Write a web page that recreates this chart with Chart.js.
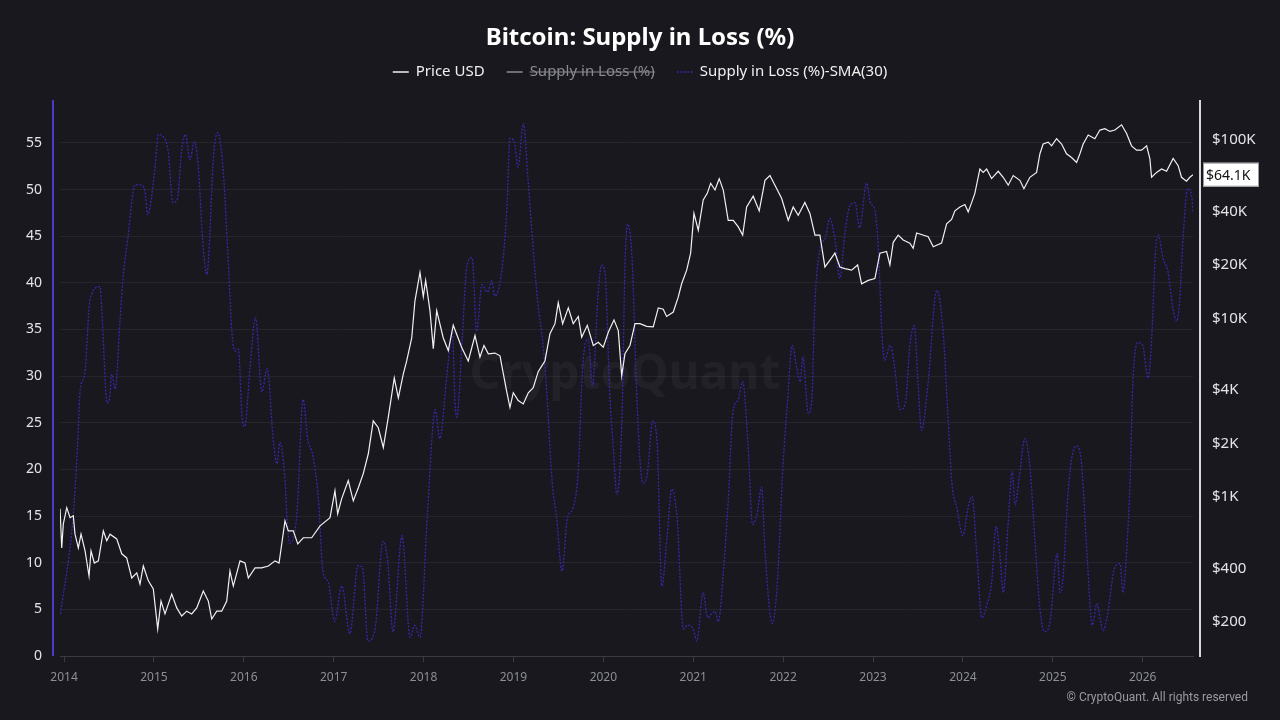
<!DOCTYPE html>
<html>
<head>
<meta charset="utf-8">
<script src="https://cdn.jsdelivr.net/npm/chart.js@4.4.1/dist/chart.umd.min.js"></script>
<style>
html,body{margin:0;padding:0;background:#18181e;}
#wrap{width:1280px;height:720px;position:relative;}
</style>
</head>
<body>
<div id="wrap"><canvas id="chart" width="1280" height="720"></canvas></div>
<script>
// Bitcoin: Supply in Loss (%) - price vs SMA(30)

const yearTicks=[2014,2015,2016,2017,2018,2019,2020,2021,2022,2023,2024,2025,2026];
const pctTicks=[0,5,10,15,20,25,30,35,40,45,50,55];
const priceTicks=[200,400,1000,2000,4000,10000,20000,40000,100000];

const smaYears=[2013.96,2014.10,2014.15,2014.18,2014.23,2014.29,2014.40,2014.42,2014.48,2014.51,
  2014.53,2014.57,2014.62,2014.66,2014.71,2014.79,2014.85,2014.90,2014.93,2015.01,
  2015.05,2015.10,2015.16,2015.21,2015.26,2015.31,2015.35,2015.40,2015.45,2015.49,
  2015.55,2015.59,2015.62,2015.66,2015.71,2015.77,2015.82,2015.87,2015.90,2015.94,
  2015.98,2016.01,2016.07,2016.13,2016.20,2016.26,2016.33,2016.37,2016.40,2016.46,
  2016.48,2016.51,2016.59,2016.66,2016.71,2016.77,2016.83,2016.88,2016.94,2017.01,
  2017.09,2017.18,2017.27,2017.32,2017.38,2017.46,2017.55,2017.60,2017.66,2017.76,
  2017.85,2017.90,2017.96,2018.04,2018.13,2018.18,2018.26,2018.32,2018.35,2018.37,
  2018.43,2018.48,2018.54,2018.59,2018.65,2018.71,2018.76,2018.79,2018.87,2018.93,
  2018.96,2019.01,2019.05,2019.11,2019.16,2019.22,2019.27,2019.33,2019.37,2019.43,
  2019.48,2019.54,2019.60,2019.66,2019.72,2019.77,2019.83,2019.88,2019.94,2019.98,
  2020.02,2020.07,2020.11,2020.15,2020.21,2020.24,2020.27,2020.32,2020.37,2020.41,
  2020.44,2020.49,2020.55,2020.60,2020.65,2020.71,2020.76,2020.82,2020.89,2020.94,
  2021.00,2021.04,2021.11,2021.16,2021.24,2021.28,2021.33,2021.39,2021.44,2021.50,
  2021.55,2021.61,2021.66,2021.71,2021.76,2021.80,2021.88,2021.93,2022.00,2022.05,
  2022.10,2022.15,2022.19,2022.22,2022.28,2022.32,2022.35,2022.41,2022.47,2022.52,
  2022.58,2022.63,2022.69,2022.74,2022.80,2022.85,2022.93,2022.97,2023.02,2023.06,
  2023.10,2023.13,2023.19,2023.24,2023.30,2023.36,2023.41,2023.46,2023.50,2023.54,
  2023.61,2023.71,2023.78,2023.83,2023.88,2023.93,2024.00,2024.06,2024.10,2024.16,
  2024.21,2024.27,2024.32,2024.37,2024.41,2024.45,2024.50,2024.55,2024.58,2024.63,
  2024.69,2024.75,2024.80,2024.86,2024.91,2024.97,2025.05,2025.08,2025.11,2025.17,
  2025.22,2025.27,2025.32,2025.38,2025.44,2025.49,2025.56,2025.61,2025.69,2025.75,
  2025.78,2025.82,2025.86,2025.89,2025.95,2026.00,2026.06,2026.10,2026.14,2026.17,
  2026.23,2026.28,2026.34,2026.38,2026.41,2026.45,2026.50,2026.55,2026.56];
const smaPct=[4.5,14.8,22.5,28.6,30.2,38.3,39.6,37.1,27.1,27.9,
  30.2,28.6,35.6,40.9,44.8,50.5,50.5,49.8,47.3,52.1,
  55.9,55.7,54.0,48.6,49.0,54.4,55.9,53.2,55.1,52.8,
  43.6,40.9,44.8,53.2,56.1,52.1,43.6,34.4,32.7,32.9,
  25.6,24.6,31.0,36.3,28.3,30.8,22.9,20.6,22.9,18.7,
  14.8,12.1,15.2,27.5,23.3,21.4,16.8,9.1,7.9,3.7,
  7.5,2.4,9.7,9.5,1.6,2.9,12.3,10.2,2.6,12.9,
  2.0,3.3,2.0,14.8,26.4,23.3,30.2,34.8,27.1,25.6,
  34.0,41.7,42.7,34.8,39.8,39.0,40.2,38.6,41.3,48.6,
  55.5,55.1,52.4,57.1,51.3,43.6,37.9,33.3,28.3,18.7,
  14.8,9.1,14.8,15.8,19.8,31.0,34.0,29.0,38.6,41.9,
  40.9,28.3,22.5,17.3,26.4,41.7,46.3,42.5,28.3,20.6,
  18.5,19.6,25.2,22.5,7.5,12.9,17.9,14.8,2.9,3.3,
  2.9,1.6,6.8,4.1,4.8,3.7,8.3,16.8,26.0,27.5,
  29.4,22.5,14.1,15.2,18.1,11.0,3.5,7.1,20.6,27.5,
  33.3,31.0,29.4,32.1,26.0,27.5,37.1,43.6,44.8,46.9,
  44.4,40.5,45.5,48.2,48.6,45.9,50.7,48.6,47.8,43.6,
  34.4,31.7,33.3,31.0,26.4,27.1,33.3,35.4,29.4,24.2,
  29.0,39.2,34.8,26.4,18.3,16.0,12.9,16.0,17.1,10.2,
  4.1,5.6,7.9,13.9,11.0,6.8,13.7,19.8,16.2,19.4,
  23.3,19.8,12.5,4.8,2.6,3.7,11.0,6.8,7.9,17.5,
  21.7,22.5,20.6,11.0,3.3,5.6,2.7,4.5,9.5,9.9,
  6.8,11.0,18.7,29.0,33.6,33.3,29.8,34.0,42.9,45.2,
  42.5,41.3,37.1,35.9,37.9,44.8,50.1,49.0,47.5];

const priceYears=[2013.956,2013.974,2013.992,2014.030,2014.067,2014.103,2014.122,2014.159,2014.189,2014.234,
  2014.278,2014.300,2014.337,2014.382,2014.437,2014.475,2014.512,2014.586,2014.642,2014.697,
  2014.753,2014.809,2014.845,2014.882,2014.938,2014.993,2015.042,2015.079,2015.123,2015.198,
  2015.254,2015.309,2015.365,2015.420,2015.476,2015.549,2015.605,2015.643,2015.699,2015.754,
  2015.810,2015.846,2015.883,2015.958,2016.013,2016.050,2016.125,2016.199,2016.273,2016.347,
  2016.392,2016.458,2016.495,2016.551,2016.600,2016.662,2016.755,2016.848,2016.959,2017.014,
  2017.044,2017.089,2017.162,2017.218,2017.274,2017.329,2017.385,2017.440,2017.496,2017.552,
  2017.607,2017.674,2017.719,2017.774,2017.812,2017.868,2017.904,2017.960,2017.997,2018.023,
  2018.071,2018.108,2018.146,2018.219,2018.275,2018.330,2018.424,2018.497,
  2018.572,2018.627,2018.672,2018.720,2018.794,2018.850,2018.887,2018.924,2018.961,2018.998,
  2019.053,2019.109,2019.165,2019.220,2019.276,2019.350,2019.406,2019.462,2019.498,2019.547,
  2019.610,2019.665,2019.721,2019.759,2019.821,2019.888,2019.943,2019.999,2020.055,2020.118,
  2020.166,2020.204,2020.240,2020.296,2020.352,2020.407,2020.482,2020.555,2020.611,2020.666,
  2020.704,2020.778,2020.833,2020.871,2020.927,2020.971,2021.008,2021.056,2021.111,2021.156,
  2021.194,2021.242,2021.289,2021.334,2021.389,2021.445,2021.501,2021.550,2021.594,2021.667,
  2021.734,2021.798,2021.853,2021.909,2021.983,2022.057,2022.112,2022.168,2022.242,2022.298,
  2022.354,2022.409,2022.465,2022.521,2022.576,2022.632,2022.687,2022.762,2022.829,2022.873,
  2022.947,2023.021,
  2023.077,2023.151,2023.188,2023.225,2023.280,2023.336,2023.410,2023.447,2023.485,2023.614,
  2023.670,2023.763,2023.819,2023.874,2023.911,2023.967,2024.022,2024.059,2024.097,2024.133,
  2024.189,2024.226,2024.264,2024.319,2024.393,2024.448,2024.504,2024.560,2024.634,2024.679,
  2024.745,2024.820,2024.857,2024.893,2024.949,2024.987,2025.042,2025.098,2025.153,2025.209,
  2025.265,2025.302,2025.338,2025.394,2025.468,2025.524,2025.580,2025.635,2025.691,2025.765,
  2025.821,2025.876,2025.932,2025.988,2026.044,2026.080,2026.099,2026.155,2026.210,2026.266,
  2026.339,2026.395,2026.432,2026.488,2026.525,2026.560];
const priceUsd=[861,520,709,874,768,787,621,520,621,500,
  362,500,428,440,648,570,621,584,482,457,
  353,377,326,412,340,306,183,262,222,287,
  240,216,230,222,240,298,262,208,230,230,
  262,386,318,440,428,353,402,402,412,440,
  428,737,648,648,548,593,593,691,768,1087,
  808,982,1239,955,1131,1356,1752,2680,2450,1900,
  2800,4660,3600,4900,5800,7800,12600,18200,13300,16400,
  11100,6800,11100,7800,6630,9200,6900,5800,
  8050,6100,7080,6360,6420,6200,4930,3930,3190,3850,
  3480,3330,3850,4110,5070,5800,8250,9380,12300,9380,
  11500,9380,10300,7880,9180,7080,7380,6920,8400,9850,
  8580,4790,6360,7080,9380,9380,9060,9000,11500,11300,
  10300,10900,13200,15700,18700,23300,38900,31300,46300,50400,
  57400,52600,60900,52600,35600,35600,32700,29400,42300,48600,
  40200,59600,63400,55900,47300,35600,42300,38000,44800,38900,
  29400,29400,19500,21300,23300,19500,19100,18700,20000,15700,
  16400,16800,
  23300,23800,20000,26800,29400,27600,26500,24800,30200,28800,
  25300,26500,34000,36000,40200,42300,43600,39700,44700,50400,
  69000,66000,69000,61000,67000,62000,56000,63400,59600,53500,
  62000,66000,84000,95200,97600,93000,102000,95200,84000,80000,
  75000,84000,95200,107000,102000,114000,116000,112000,114000,122000,
  109000,93000,88000,88000,93000,79000,62000,66000,69000,67000,
  79000,72000,62000,59000,62000,64100];

const BG='#18181e';
const PURPLE='#3828a8';
const FONT='"Noto Sans", "Open Sans", sans-serif';

function fmtUsd(v){
  if(v>=1000) return '$'+(v/1000)+'K';
  return '$'+v;
}

const decor={
  id:'decor',
  beforeDatasetsDraw(chart){
    const c=chart.ctx;
    c.save();
    c.font='bold 48px '+FONT;
    c.fillStyle='rgba(255,255,255,0.045)';
    c.textAlign='center';c.textBaseline='middle';
    c.fillText('CryptoQuant',625,375);
    c.restore();
  },
  afterDraw(chart){
    const c=chart.ctx, a=chart.chartArea;
    c.save();
    // axis lines
    c.lineWidth=2;
    c.strokeStyle='#4a3bc9';
    c.beginPath();c.moveTo(53,a.top);c.lineTo(53,a.bottom);c.stroke();
    c.strokeStyle='#d8d8dc';
    c.beginPath();c.moveTo(1200,a.top);c.lineTo(1200,a.bottom+1);c.stroke();
    // title
    c.fillStyle='#ffffff';
    c.font='bold 24px '+FONT;
    c.textAlign='center';c.textBaseline='middle';
    c.fillText('Bitcoin: Supply in Loss (%)',640,38);
    // legend
    c.font='15px '+FONT;
    const items=chart.data.datasets.map(d=>({label:d.label,color:d.borderColor,hidden:!!d.hidden,dash:d.borderDash||[]}));
    const sw=16,gap=7,sep=22;
    let total=0;
    items.forEach((it,i)=>{it.w=c.measureText(it.label).width;total+=sw+gap+it.w+(i?sep:0);});
    let x=640-total/2;const ly=72;
    items.forEach((it,i)=>{
      if(i) x+=sep;
      c.lineWidth=1.5;
      c.strokeStyle=it.hidden?'#8a8a92':it.color;
      c.setLineDash(it.dash);
      c.beginPath();c.moveTo(x,ly);c.lineTo(x+sw,ly);c.stroke();
      c.setLineDash([]);
      x+=sw+gap;
      c.fillStyle=it.hidden?'#8a8a92':'#f0f0f0';
      c.textAlign='left';
      c.fillText(it.label,x,ly);
      if(it.hidden){
        c.strokeStyle='#8a8a92';c.lineWidth=1.2;
        c.beginPath();c.moveTo(x,ly);c.lineTo(x+it.w,ly);c.stroke();
      }
      x+=it.w;
    });
    // last price tag
    const yR=chart.scales.yR;
    const last=priceUsd[priceUsd.length-1];
    const py=yR.getPixelForValue(last);
    c.fillStyle='#ffffff';
    c.fillRect(1203,py-12,56,24);
    c.strokeStyle='#9a9a9a';c.lineWidth=1;
    c.strokeRect(1203.5,py-11.5,55,23);
    c.fillStyle='#111';
    c.font='14px '+FONT;
    c.textAlign='left';
    c.fillText('$'+(last/1000).toFixed(1)+'K',1206,py+1);
    // footer
    c.fillStyle='#9a9aa2';
    c.font='12px Roboto, sans-serif';
    c.textAlign='right';
    c.fillText('\u00A9 CryptoQuant. All rights reserved',1248,698);
    c.restore();
  }
};

new Chart(document.getElementById('chart').getContext('2d'),{
  type:'line',
  data:{datasets:[
    {label:'Price USD',yAxisID:'yR',data:priceYears.map((t,i)=>({x:t,y:priceUsd[i]})),
      borderColor:'#f2f2f2',borderWidth:1.2,pointRadius:0,tension:0},
    {label:'Supply in Loss (%)',yAxisID:'yL',data:[],hidden:true,borderColor:'#8a8a92',borderWidth:1,pointRadius:0},
    {label:'Supply in Loss (%)-SMA(30)',yAxisID:'yL',data:smaYears.map((t,i)=>({x:t,y:smaPct[i]})),
      borderColor:PURPLE,borderWidth:1.3,borderDash:[2,1.5],pointRadius:0,cubicInterpolationMode:'monotone'}
  ]},
  options:{
    responsive:false,animation:false,
    layout:{padding:{top:100,left:0,right:0,bottom:0}},
    plugins:{legend:{display:false},title:{display:false},tooltip:{enabled:false}},
    scales:{
      x:{type:'linear',min:2013.955,max:2026.56,
        afterBuildTicks:s=>{s.ticks=yearTicks.map(v=>({value:v}));},
        afterFit:s=>{s.height=64;},
        grid:{display:true,drawOnChartArea:false,drawTicks:true,tickLength:6,color:'#3a3a42'},
        border:{display:true,color:'#3a3a42',width:1},
        ticks:{color:'#8e8e98',font:{size:12,family:FONT},padding:8,maxRotation:0,callback:v=>String(v)}},
      yL:{type:'linear',position:'left',min:0,max:59.6,
        afterBuildTicks:s=>{s.ticks=pctTicks.map(v=>({value:v}));},
        afterFit:s=>{s.width=60;},
        grid:{color:'#25252c',drawTicks:false},
        border:{display:false},
        ticks:{color:'#e4e4e8',font:{size:14,family:FONT},padding:18}},
      yR:{type:'logarithmic',position:'right',min:129,max:168000,
        afterBuildTicks:s=>{s.ticks=priceTicks.map(v=>({value:v}));},
        afterFit:s=>{s.width=87;},
        grid:{display:false,drawTicks:false},
        border:{display:false},
        ticks:{color:'#e4e4e8',font:{size:15,family:FONT},padding:19,callback:v=>fmtUsd(v)}}
    }
  },
  plugins:[decor]
});
</script>
</body>
</html>
